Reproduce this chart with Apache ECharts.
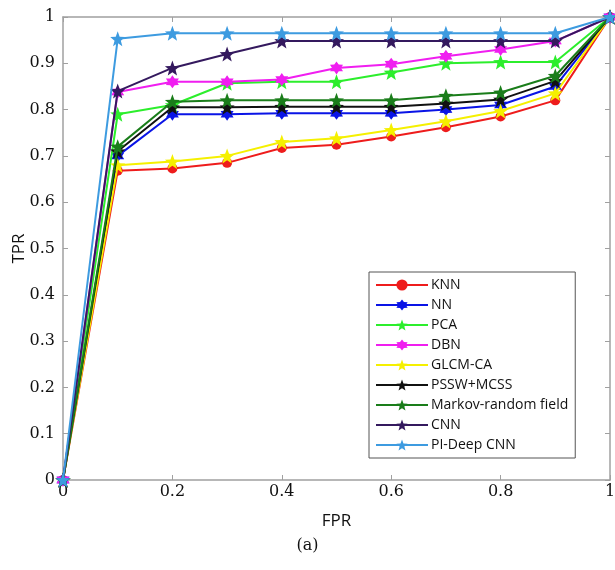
<!DOCTYPE html>
<html>
<head>
<meta charset="utf-8">
<script src="https://cdn.jsdelivr.net/npm/echarts@6/dist/echarts.min.js"></script>
<style>
  html, body { margin: 0; padding: 0; background: #fff; }
  #main { width: 615px; height: 570px; }
</style>
</head>
<body>
<div id="main"></div>
<script>
// FPR points shared by all curves
var fpr = [0, 0.1, 0.2, 0.3, 0.4, 0.5, 0.6, 0.7, 0.8, 0.9, 1];

// TPR
var knn     = [0, 0.668, 0.673, 0.685, 0.717, 0.724, 0.742, 0.762, 0.785, 0.820, 1];
var nn      = [0, 0.700, 0.790, 0.790, 0.792, 0.792, 0.792, 0.800, 0.810, 0.850, 1];
var pca     = [0, 0.790, 0.810, 0.857, 0.860, 0.860, 0.880, 0.900, 0.903, 0.903, 1];
var dbn     = [0, 0.838, 0.860, 0.860, 0.865, 0.890, 0.898, 0.915, 0.930, 0.948, 1];
var glcm    = [0, 0.680, 0.688, 0.700, 0.730, 0.738, 0.756, 0.775, 0.797, 0.835, 1];
var pssw    = [0, 0.710, 0.805, 0.805, 0.806, 0.806, 0.806, 0.813, 0.822, 0.862, 1];
var markov  = [0, 0.720, 0.817, 0.820, 0.820, 0.820, 0.820, 0.830, 0.837, 0.873, 1];
var cnn     = [0, 0.840, 0.890, 0.920, 0.948, 0.948, 0.948, 0.948, 0.948, 0.948, 1];
var pideep  = [0, 0.953, 0.965, 0.965, 0.965, 0.965, 0.965, 0.965, 0.965, 0.965, 1];

var names  = ['KNN', 'NN', 'PCA', 'DBN', 'GLCM-CA', 'PSSW+MCSS', 'Markov-random field', 'CNN', 'PI-Deep CNN'];
var values = [knn, nn, pca, dbn, glcm, pssw, markov, cnn, pideep];
var colors = ['#ee1c1c', '#0a14e6', '#2cee2c', '#f01ef0', '#f5f000', '#111111', '#1a7d1a', '#34195e', '#3d9be0'];

// marker shapes: circle, hexagram, pentagram
function starPath(n, r1, r2) {
  var pts = [];
  for (var i = 0; i < n * 2; i++) {
    var r = i % 2 === 0 ? r1 : r2;
    var a = Math.PI * i / n - Math.PI / 2;
    pts.push((r * Math.cos(a)).toFixed(2) + ',' + (r * Math.sin(a)).toFixed(2));
  }
  return 'path://M' + pts.join('L') + 'Z';
}
var penta = starPath(5, 10, 4.2);
var hexa = starPath(6, 10, 6);
var symbols = ['circle', hexa, penta, hexa, penta, penta, penta, penta, penta];
var sizes = [10, 13, 15, 13, 15, 15, 15, 15, 15];

var series = names.map(function (n, i) {
  return {
    name: n,
    type: 'line',
    data: fpr.map(function (x, j) { return [x, values[i][j]]; }),
    symbol: symbols[i],
    symbolSize: sizes[i],
    showAllSymbol: true,
    lineStyle: { width: 2, color: colors[i] },
    itemStyle: { color: colors[i] },
    emphasis: { disabled: true },
    z: 2 + i
  };
});

var axisGray = '#a0a0a0';
var tickFont = { fontFamily: 'DejaVu Serif', fontSize: 16, color: '#111' };

var chart = echarts.init(document.getElementById('main'));
chart.setOption({
  animation: false,
  backgroundColor: '#fff',
  grid: { left: 63, right: 5, top: 17, bottom: 90, containLabel: false, outerBoundsMode: 'none' },
  xAxis: [{
    type: 'value', min: 0, max: 1, interval: 0.2,
    name: 'FPR', nameLocation: 'middle', nameGap: 33,
    nameTextStyle: { fontFamily: 'Open Sans', fontSize: 17, color: '#111' },
    axisLine: { onZero: false, lineStyle: { color: axisGray, width: 1.5 } },
    axisTick: { inside: true, length: 5, lineStyle: { color: axisGray } },
    axisLabel: Object.assign({ margin: 4 }, tickFont),
    splitLine: { show: false }
  }, {
    type: 'value', min: 0, max: 1, interval: 0.2, position: 'top',
    axisLine: { onZero: false, lineStyle: { color: axisGray, width: 1.5 } },
    axisTick: { inside: true, length: 5, lineStyle: { color: axisGray } },
    axisLabel: { show: false },
    splitLine: { show: false }
  }],
  yAxis: [{
    type: 'value', min: 0, max: 1, interval: 0.1,
    name: 'TPR', nameLocation: 'middle', nameGap: 35, nameMoveOverlap: false,
    nameTextStyle: { fontFamily: 'Open Sans', fontSize: 17, color: '#111' },
    axisLine: { show: true, onZero: false, lineStyle: { color: axisGray, width: 1.5 } },
    axisTick: { show: true, inside: true, length: 5, lineStyle: { color: axisGray } },
    axisLabel: Object.assign({ margin: 8 }, tickFont),
    splitLine: { show: false }
  }, {
    type: 'value', min: 0, max: 1, interval: 0.1, position: 'right',
    axisLine: { show: true, onZero: false, lineStyle: { color: axisGray, width: 1.5 } },
    axisTick: { show: true, inside: true, length: 5, lineStyle: { color: axisGray } },
    axisLabel: { show: false },
    splitLine: { show: false }
  }],
  legend: {
    data: names,
    orient: 'vertical',
    left: 369, top: 272,
    padding: [6, 7, 6, 6],
    itemWidth: 52, itemHeight: 14, itemGap: 6,
    backgroundColor: '#fff',
    borderColor: '#555', borderWidth: 1,
    textStyle: { fontFamily: 'Open Sans', fontSize: 14, color: '#111', padding: [0, 0, 0, -2] },
    selectedMode: false
  },
  graphic: [{
    type: 'text', left: 'center', top: 538,
    style: { text: '(a)', font: '16px "DejaVu Serif"', fill: '#111' },
    x: 30
  }],
  series: series
});
</script>
</body>
</html>
